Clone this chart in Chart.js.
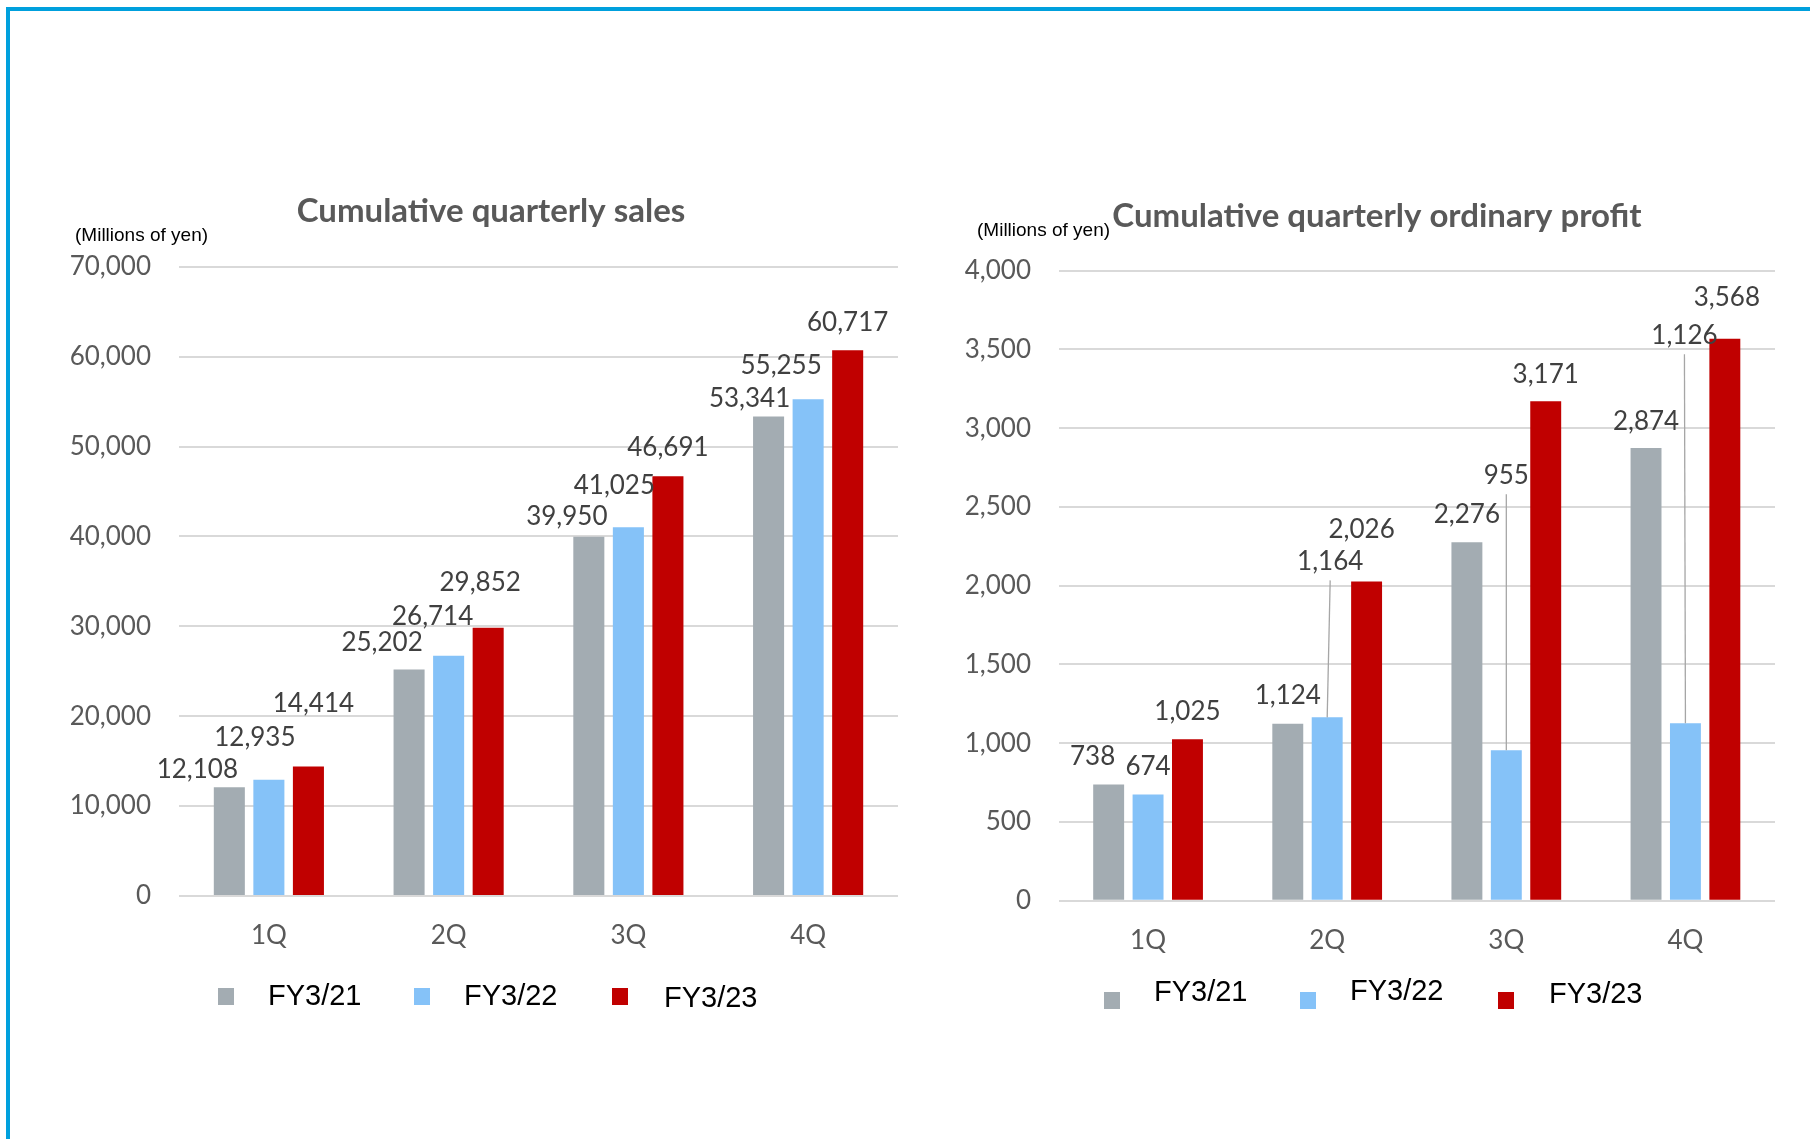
<!DOCTYPE html>
<html>
<head>
<meta charset="utf-8">
<script src="https://cdn.jsdelivr.net/npm/chart.js@4.4.1/dist/chart.umd.min.js"></script>
<style>
  html, body { margin: 0; padding: 0; background: #fff; }
  #page { position: relative; width: 1810px; height: 1139px; overflow: hidden; }
  #frame { position: absolute; left: 6px; top: 7px; width: 1810px; height: 1140px;
           border-left: 4px solid #00A0DD; border-top: 4px solid #00A0DD; }
  .box { position: absolute; top: 0; width: 905px; height: 1139px; }
</style>
</head>
<body>
<div id="page">
  <div id="frame"></div>
  <div class="box" style="left:0"><canvas id="sales" width="905" height="1139"></canvas></div>
  <div class="box" style="left:905px"><canvas id="profit" width="905" height="1139"></canvas></div>
</div>
<script>
// ---- data ----
const quarters = ['1Q', '2Q', '3Q', '4Q'];
const fiscalYears = ['FY3/21', 'FY3/22', 'FY3/23'];

const sales21 = [12108, 25202, 39950, 53341];
const sales22 = [12935, 26714, 41025, 55255];
const sales23 = [14414, 29852, 46691, 60717];

const profit21 = [738, 1124, 2276, 2874];
const profit22 = [674, 1164, 955, 1126];
const profit23 = [1025, 2026, 3171, 3568];

const salesAxis = { min: 0, max: 70000, step: 10000 };
const profitAxis = { min: 0, max: 4000, step: 500 };

// ---- look ----
const ink = { title: '#595959', tick: '#595959', value: '#404040', grid: '#D9D9D9', leader: '#A6A6A6' };
const seriesColors = ['#A3ACB2', '#85C2F8', '#C00000'];
const CAL = 'Lato, "Open Sans", sans-serif';
const ARIAL = '"Liberation Sans", Arial, sans-serif';

const fmt = v => Number(v).toLocaleString('en-US');

// where each value label sits relative to the top of its bar: [dx, dy] per series, per quarter
const salesLabelShift = [
  [[-32, -18], [-27, -27], [-22, -20], [-19, -18]],
  [[-14, -42], [-16, -39], [-14, -42], [-27, -34]],
  [[5, -63], [-8, -45], [0, -29], [0, -28]],
];
const profitLabelShift = [
  [[-16, -28], [0, -28], [0, -28], [0, -26]],
  [[0, -28], [3, -156], [0, -275], [-1, -388]],
  [[0, -28], [-5, -52], [0, -27], [2, -41]],
];

// value labels, titles, unit note and legend, drawn on top of the chart
const overlay = {
  id: 'overlay',
  afterDatasetsDraw(chart, args, o) {
    const ctx = chart.ctx;
    ctx.save();
    ctx.font = '26px ' + CAL;
    ctx.textAlign = 'center';
    ctx.textBaseline = 'middle';
    chart.data.datasets.forEach((ds, si) => {
      const meta = chart.getDatasetMeta(si);
      meta.data.forEach((bar, i) => {
        const [dx, dy] = o.shift[si][i];
        const lx = bar.x + dx, ly = bar.y + dy;
        if (dy < -100) {
          // long pull-out: tie the label back to its bar
          ctx.strokeStyle = ink.leader;
          ctx.lineWidth = 1.3;
          ctx.beginPath();
          ctx.moveTo(lx, ly + 19);
          ctx.lineTo(bar.x, bar.y);
          ctx.stroke();
        }
        ctx.fillStyle = ink.value;
        ctx.fillText(fmt(ds.data[i]), lx, ly);
      });
    });
    ctx.restore();
  },
  afterDraw(chart, args, o) {
    const ctx = chart.ctx;
    ctx.save();
    ctx.textBaseline = 'alphabetic';

    ctx.fillStyle = ink.title;
    ctx.font = 'bold 33px ' + CAL;
    ctx.textAlign = 'center';
    ctx.fillText(o.title, o.titleX, o.titleY);

    ctx.fillStyle = '#000';
    ctx.font = '19px ' + ARIAL;
    ctx.textAlign = 'left';
    ctx.fillText('(Millions of yen)', o.unitX, o.unitY);

    ctx.font = '29px ' + ARIAL;
    chart.data.datasets.forEach((ds, si) => {
      const it = o.legend[si];
      ctx.fillStyle = ds.backgroundColor;
      ctx.fillRect(it.box, o.legendTop, 16, 17);
      ctx.fillStyle = '#000';
      ctx.fillText(ds.label, it.text, it.base);
    });
    ctx.restore();
  }
};

function barChart(id, series, axis, area, extra) {
  return new Chart(document.getElementById(id), {
    type: 'bar',
    data: {
      labels: quarters,
      datasets: series.map((d, i) => ({
        label: fiscalYears[i],
        data: d,
        backgroundColor: seriesColors[i],
        borderWidth: 0,
        categoryPercentage: 0.66,
        barPercentage: 0.785,
      })),
    },
    options: {
      responsive: false,
      animation: false,
      layout: { padding: { left: 0, top: area.top, right: area.right, bottom: area.bottom } },
      plugins: { legend: { display: false }, tooltip: { enabled: false }, overlay: extra },
      scales: {
        x: {
          grid: { display: false },
          border: { display: false },
          ticks: { color: ink.tick, font: { family: CAL, size: 26 }, padding: 16 },
          afterFit: s => { s.height = 60; },
        },
        y: {
          min: axis.min, max: axis.max,
          grid: { color: ink.grid, lineWidth: 2, drawTicks: false },
          border: { display: false },
          ticks: { stepSize: axis.step, color: ink.tick, font: { family: CAL, size: 26 },
                   padding: area.tickPad, callback: v => fmt(v) },
          afterFit: s => { s.width = area.left; },
        },
      },
    },
    plugins: [overlay],
  });
}

barChart('sales', [sales21, sales22, sales23], salesAxis,
  { left: 179, top: 266.7, right: 7, bottom: 183, tickPad: 28 },
  {
    title: 'Cumulative quarterly sales', titleX: 491, titleY: 222,
    unitX: 75, unitY: 241,
    shift: salesLabelShift,
    legendTop: 988,
    legend: [{ box: 218, text: 268, base: 1005 }, { box: 414, text: 464, base: 1005 }, { box: 612, text: 664, base: 1007 }],
  });

barChart('profit', [profit21, profit22, profit23], profitAxis,
  { left: 153.5, top: 270.7, right: 35, bottom: 178.3, tickPad: 27.5 },
  {
    title: 'Cumulative quarterly ordinary profit', titleX: 472, titleY: 227,
    unitX: 72, unitY: 236,
    shift: profitLabelShift,
    legendTop: 992,
    legend: [{ box: 199, text: 249, base: 1001 }, { box: 395, text: 445, base: 1000 }, { box: 593, text: 644, base: 1003 }],
  });
</script>
</body>
</html>
